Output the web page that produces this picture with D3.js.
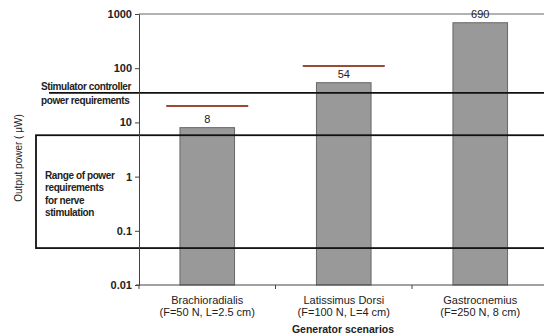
<!DOCTYPE html>
<html lang="en">
<head>
    <meta charset="UTF-8">
    <title>Generator scenarios</title>
    <script src="https://d3js.org/d3.v7.min.js"></script>
    <style>
        body { margin: 0; background: #fff; }
        svg { display: block; font-family: "Liberation Sans", Arial, sans-serif; }
        .axis text { font-size: 11px; font-weight: bold; fill: #222; }
        .axis path, .axis line { stroke: #444; }
        .bar { fill: #999; stroke: #666; stroke-width: 1; }
        .note { font-size: 10px; font-weight: bold; fill: #222; letter-spacing: -0.4px; }
        .xlbl { font-size: 11px; fill: #222; }
    </style>
</head>
<body>
<div id="chart"></div>
<script>
    // data
    var muscles = ["Brachioradialis", "Latissimus Dorsi", "Gastrocnemius"];
    var details = ["(F=50 N, L=2.5 cm)", "(F=100 N, L=4 cm)", "(F=250 N, 8 cm)"];
    var powers = [8, 54, 690];            // output power, µW
    var redLevels = [20, 110];            // red markers over the first two bars
    var yTicks = [0.01, 0.1, 1, 10, 100, 1000];
    var stimulatorLevel = 35;             // stimulator controller requirement
    var nerveRange = [0.048, 5.8];        // nerve stimulation range

    var data = muscles.map(function(m, i) {
        return { name: m, detail: details[i], value: powers[i] };
    });

    var svg = d3.select("#chart").append("svg")
        .attr("width", 544)
        .attr("height", 334);

    var plotLeft = 139, plotRight = 548.5, plotTop = 14, plotBottom = 285;

    var x = d3.scaleBand().domain(muscles).range([plotLeft, plotRight]).paddingInner(0.6).paddingOuter(0.3);
    var y = d3.scaleLog().domain([0.01, 1000]).range([plotBottom, plotTop]);

    // top border line
    svg.append("line")
        .attr("x1", plotLeft).attr("x2", 544)
        .attr("y1", y(1000)).attr("y2", y(1000))
        .attr("stroke", "#999").attr("stroke-width", 1.5);

    // bars
    svg.selectAll(".bar")
        .data(data)
        .enter().append("rect")
        .attr("class", "bar")
        .attr("x", function(d) { return x(d.name); })
        .attr("y", function(d) { return y(d.value); })
        .attr("width", x.bandwidth())
        .attr("height", function(d) { return y(0.01) - y(d.value); });

    // value labels
    svg.selectAll(".val")
        .data(data)
        .enter().append("text")
        .attr("x", function(d) { return x(d.name) + x.bandwidth() / 2; })
        .attr("y", function(d) { return y(d.value) - 5; })
        .attr("text-anchor", "middle")
        .style("font-size", "11px")
        .style("fill", "#222")
        .text(function(d) { return d.value; });

    // red markers
    svg.selectAll(".red")
        .data(redLevels)
        .enter().append("line")
        .attr("x1", function(d, i) { return x(muscles[i]) + x.bandwidth() / 2 - 41; })
        .attr("x2", function(d, i) { return x(muscles[i]) + x.bandwidth() / 2 + 41; })
        .attr("y1", function(d) { return y(d); })
        .attr("y2", function(d) { return y(d); })
        .attr("stroke", "#9c4a38").attr("stroke-width", 2);

    // stimulator controller line
    svg.append("line")
        .attr("x1", 49).attr("x2", 544)
        .attr("y1", y(stimulatorLevel)).attr("y2", y(stimulatorLevel))
        .attr("stroke", "#111").attr("stroke-width", 1.8);

    svg.append("text").attr("class", "note")
        .attr("x", 41).attr("y", y(stimulatorLevel) - 3)
        .text("Stimulator controller");
    svg.append("text").attr("class", "note")
        .attr("x", 41).attr("y", y(stimulatorLevel) + 11)
        .text("power requirements");

    // nerve stimulation range box
    svg.append("rect")
        .attr("x", 36).attr("width", 540)
        .attr("y", y(nerveRange[1]))
        .attr("height", y(nerveRange[0]) - y(nerveRange[1]))
        .attr("fill", "none")
        .attr("stroke", "#111").attr("stroke-width", 1.8);

    ["Range of power", "requirements", "for nerve", "stimulation"].forEach(function(t, i) {
        svg.append("text").attr("class", "note")
            .attr("x", 45).attr("y", 179 + i * 12.3)
            .text(t);
    });

    // axes
    svg.append("g")
        .attr("class", "axis")
        .attr("transform", "translate(" + plotLeft + ",0)")
        .call(d3.axisLeft(y).tickValues(yTicks).tickSize(4).tickPadding(3)
            .tickFormat(function(d) { return String(d); }));

    var xAxis = svg.append("g")
        .attr("transform", "translate(0," + plotBottom + ")");
    xAxis.append("line")
        .attr("x1", plotLeft - 3).attr("x2", 544)
        .attr("stroke", "#444");
    xAxis.selectAll(".tk")
        .data(d3.range(muscles.length))
        .enter().append("line")
        .attr("x1", function(i) { return x(muscles[i]) - x.step() * x.paddingInner() / 2; })
        .attr("x2", function(i) { return x(muscles[i]) - x.step() * x.paddingInner() / 2; })
        .attr("y2", 4)
        .attr("stroke", "#444");

    var lbl = xAxis.selectAll(".xlbl")
        .data(data)
        .enter().append("text")
        .attr("class", "xlbl")
        .attr("text-anchor", "middle");
    lbl.append("tspan")
        .attr("x", function(d) { return x(d.name) + x.bandwidth() / 2; })
        .attr("y", 19)
        .text(function(d) { return d.name; });
    lbl.append("tspan")
        .attr("x", function(d) { return x(d.name) + x.bandwidth() / 2; })
        .attr("y", 31)
        .text(function(d) { return d.detail; });

    svg.append("text")
        .attr("x", 343).attr("y", 333)
        .attr("text-anchor", "middle")
        .style("font-size", "10.5px").style("font-weight", "bold").style("fill", "#222")
        .text("Generator scenarios");

    svg.append("text")
        .attr("transform", "translate(22,158) rotate(-90)")
        .attr("text-anchor", "middle")
        .style("font-size", "10px").style("fill", "#222")
        .text("Output power ( \u03bcW)");
</script>
</body>
</html>
